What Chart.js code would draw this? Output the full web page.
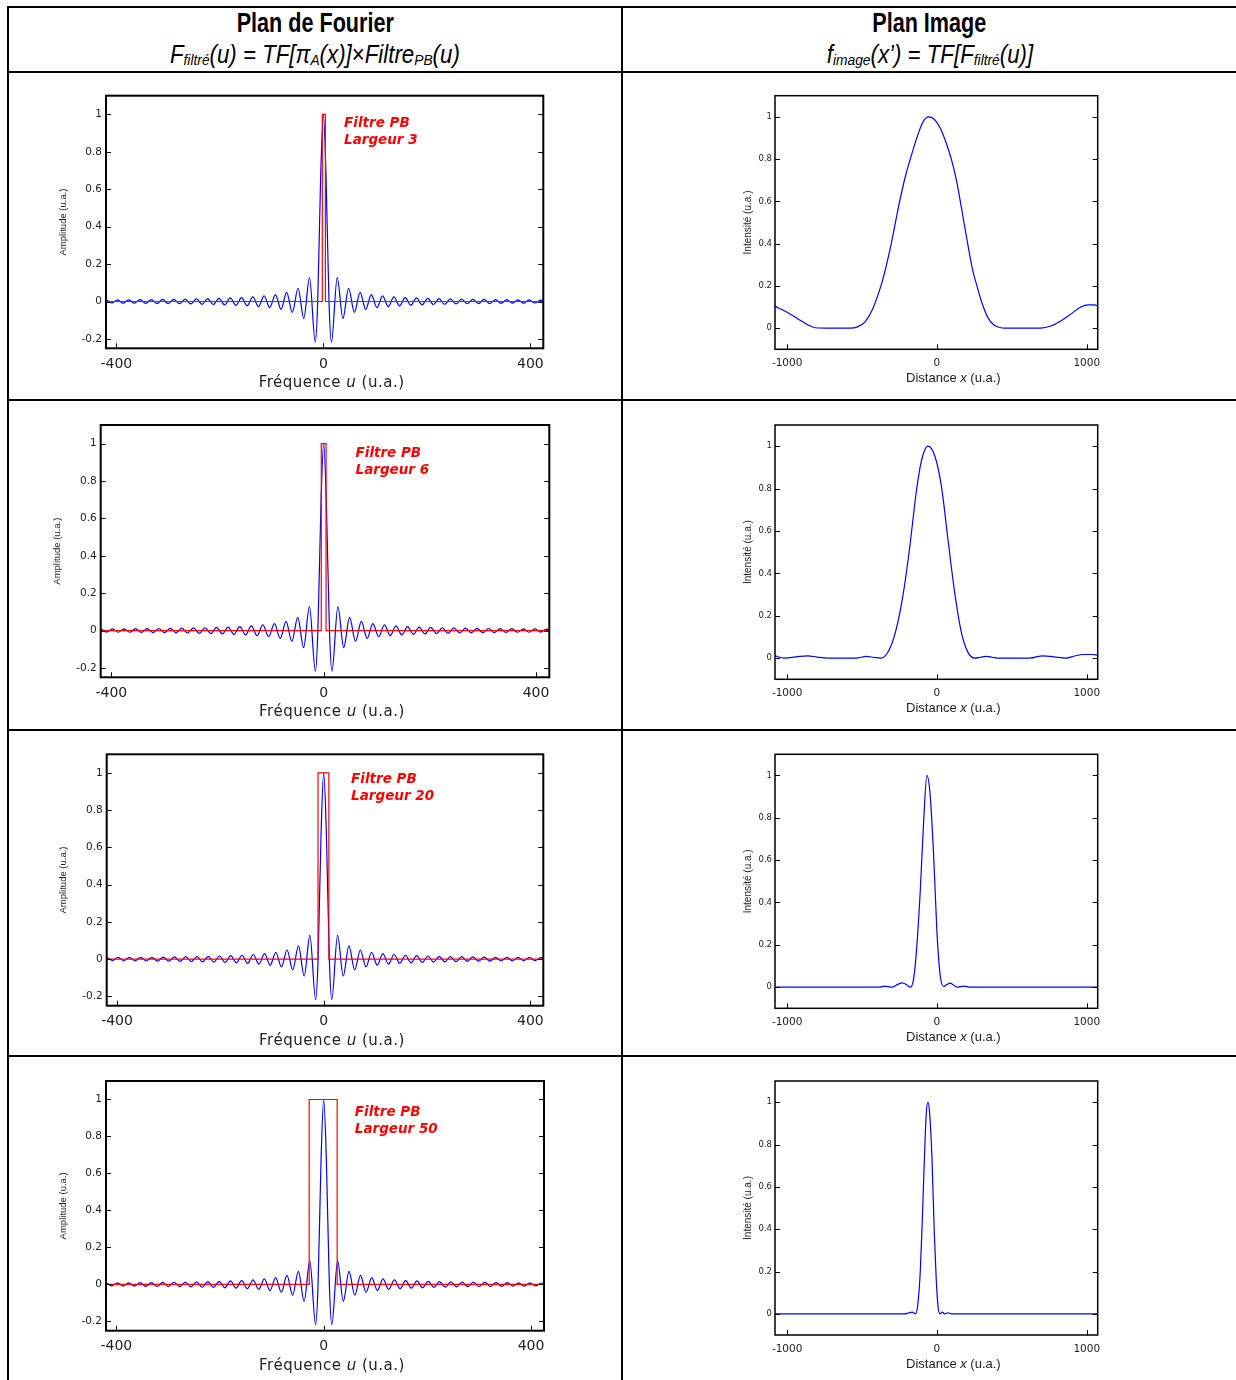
<!DOCTYPE html>
<html lang="fr">
<head>
<meta charset="utf-8">
<title>Filtrage passe-bas</title>
<script src="https://cdn.jsdelivr.net/npm/chart.js@4.4.1/dist/chart.umd.min.js"></script>
<style>
html,body{margin:0;padding:0;background:#fff}
body{width:1236px;height:1380px;position:relative;overflow:hidden;font-family:"Liberation Sans",Arial,sans-serif}
.ln{position:absolute;background:#000}
.hd{position:absolute;text-align:center;white-space:nowrap;color:#000}
.hd span{display:inline-block;transform:scaleX(.8);transform-origin:center}
.t1{font-weight:bold;font-size:27px;line-height:27px}
.t2{font-size:25px;line-height:25px}
.hd.t2 span{transform:scaleX(.89)}
.t2 sub{font-size:.62em;vertical-align:-.14em}
canvas{position:absolute}
</style>
</head>
<body>

<div class="ln" style="left:7px;top:6px;width:1229px;height:2px"></div>
<div class="ln" style="left:7px;top:71px;width:1229px;height:2px"></div>
<div class="ln" style="left:7px;top:399px;width:1229px;height:2px"></div>
<div class="ln" style="left:7px;top:729px;width:1229px;height:2px"></div>
<div class="ln" style="left:7px;top:1055px;width:1229px;height:2px"></div>
<div class="ln" style="left:7px;top:6px;width:2px;height:1374px"></div>
<div class="ln" style="left:621px;top:6px;width:2px;height:1374px"></div>

<div class="hd t1" style="left:9px;width:612px;top:10px"><span>Plan de Fourier</span></div>
<div class="hd t2" style="left:9px;width:612px;top:42px"><span><i>F<sub>filtré</sub>(u) = TF[π<sub>A</sub>(x)]</i>×<i>Filtre<sub>PB</sub>(u)</i></span></div>
<div class="hd t1" style="left:623px;width:613px;top:10px"><span>Plan Image</span></div>
<div class="hd t2" style="left:623px;width:613px;top:42px"><span><i>f<sub>image</sub>(x’) = TF[F<sub>filtré</sub>(u)]</i></span></div>

<canvas id="f1"></canvas><canvas id="f2"></canvas><canvas id="f3"></canvas><canvas id="f4"></canvas>
<canvas id="i1"></canvas><canvas id="i2"></canvas><canvas id="i3"></canvas><canvas id="i4"></canvas>

<script>
// TF de la fente (courbe bleue, identique sur les 4 graphes), valeurs lues aux extrema
const fourierU = [
  -430.6, -419.7, -408.8, -397.9, -387.0, -376.1, -365.2, -354.3, -343.4, -332.5,
  -321.6, -310.7, -299.8, -288.9, -278.0, -267.1, -256.2, -245.3, -234.4, -223.5,
  -212.6, -201.7, -190.8, -179.9, -169.0, -158.1, -147.2, -136.3, -125.4, -114.5,
  -103.6, -92.7, -81.8, -70.9, -60.0, -48.8, -37.8, -26.8, -15.6, -10.9, -5, 0,
  5, 10.9, 15.6, 26.8, 37.8, 48.8, 60.0, 70.9, 81.8, 92.7, 103.6, 114.5,
  125.4, 136.3, 147.2, 158.1, 169.0, 179.9, 190.8, 201.7, 212.6, 223.5,
  234.4, 245.3, 256.2, 267.1, 278.0, 288.9, 299.8, 310.7, 321.6, 332.5,
  343.4, 354.3, 365.2, 376.1, 387.0, 397.9, 408.8, 419.7, 430.6
]
const fourierAmp = [
  -0.008, 0.008, -0.008, 0.009, -0.009, 0.009, -0.009, 0.010, -0.010, 0.010,
  -0.011, 0.011, -0.011, 0.012, -0.012, 0.013, -0.013, 0.014, -0.015, 0.015,
  -0.016, 0.017, -0.018, 0.019, -0.020, 0.021, -0.023, 0.025, -0.027, 0.030,
  -0.033, 0.037, -0.042, 0.049, -0.058, 0.071, -0.091, 0.128, -0.217, 0, 0.688, 1,
  0.688, 0, -0.217, 0.128, -0.091, 0.071, -0.058, 0.049, -0.042, 0.037, -0.033, 0.030,
  -0.027, 0.025, -0.023, 0.021, -0.020, 0.019, -0.018, 0.017, -0.016, 0.015,
  -0.015, 0.014, -0.013, 0.013, -0.012, 0.012, -0.011, 0.011, -0.011, 0.010,
  -0.010, 0.010, -0.009, 0.009, -0.009, 0.009, -0.008, 0.008, -0.008
]

// filtre passe-bas (rouge)
const filtreLargeur = [3, 6, 20, 50]
const filtreBas = [-2, -4.5, -11, -28]
const filtreHaut = [4, 4.5, 10, 26]

// intensite dans le plan image
const image1X = [-1085, -1000, -930, -860, -813, -700, -580, -530, -480, -430, -374, -340, -305, -249, -210, -178, -130, -90, -56, -20, 20, 60, 96, 130, 156, 205, 240, 267, 300, 340, 380, 420, 450, 560, 690, 760, 840, 900, 960, 1010, 1050, 1080]
const image1Y = [0.105, 0.075, 0.045, 0.015, 0.002, 0, 0, 0.006, 0.03, 0.09, 0.2, 0.29, 0.4, 0.6, 0.72, 0.8, 0.91, 0.98, 1.0, 0.99, 0.95, 0.88, 0.8, 0.7, 0.6, 0.4, 0.27, 0.2, 0.12, 0.05, 0.015, 0.003, 0, 0, 0, 0.01, 0.04, 0.07, 0.1, 0.11, 0.11, 0.103]

const image2X = [-1085, -1018, -940, -862, -800, -728, -600, -539, -472, -420, -372, -316, -272, -227, -183, -138, -105, -60, -16, 29, 73, 118, 163, 207, 252, 290, 330, 370, 419, 520, 619, 708, 780, 864, 920, 976, 1030, 1080]
const image2Y = [0.011, 0, 0.006, 0.011, 0.005, 0, 0, 0, 0.008, 0.003, 0, 0.043, 0.137, 0.295, 0.516, 0.784, 0.926, 1.0, 0.957, 0.815, 0.563, 0.311, 0.121, 0.027, 0, 0.004, 0.008, 0.004, 0, 0, 0, 0.011, 0.006, 0, 0.01, 0.017, 0.017, 0.014]

const image3X = [-1085, -380, -350, -300, -265, -230, -200, -178, -156, -134, -111, -89, -67, -45, -22, 0, 22, 45, 65, 89, 110, 134, 178, 223, 1080]
const image3Y = [0, 0, 0.005, 0, 0.012, 0.02, 0.01, 0, 0.038, 0.196, 0.46, 0.78, 1.0, 0.905, 0.62, 0.26, 0.054, 0.003, 0.012, 0.019, 0.01, 0, 0.005, 0, 0]

const image4X = [-1085, -250, -216, -190, -165, -143, -127, -111, -98, -82, -71, -60, -49, -33, -18, -4.5, 9, 22, 36, 51, 73, 96, 1080]
const image4Y = [0, 0, 0, 0.004, 0.008, 0, 0.047, 0.205, 0.44, 0.77, 0.95, 1.0, 0.95, 0.73, 0.39, 0.158, 0.024, 0, 0.008, 0, 0.005, 0, 0]

const imageX = [image1X, image2X, image3X, image4X]
const imageY = [image1Y, image2Y, image3Y, image4Y]

// graduations
const uTicks = [-400, 0, 400]
const ampTicks = [-0.2, 0, 0.2, 0.4, 0.6, 0.8, 1]
const ampLabels = ['-0.2', '0', '0.2', '0.4', '0.6', '0.8', '1']
const xTicks = [-1000, 0, 1000]
const intTicks = [0, 0.2, 0.4, 0.6, 0.8, 1]
const intLabels = ['0', '0.2', '0.4', '0.6', '0.8', '1']


// mise en page (pixels de la page)
const rowTop = [74, 402, 732, 1058]
const rowH = [325, 327, 323, 322]
const fourierArea = [
  {l: 106, t: 95.7, r: 543.3, b: 348.3},
  {l: 100.7, t: 425, r: 549.3, b: 677.3},
  {l: 106.7, t: 754.3, r: 543.3, b: 1005.7},
  {l: 106, t: 1081, r: 544, b: 1330.7}
]
const imageArea = [
  {l: 775, t: 95.7, r: 1097.7, b: 349.3},
  {l: 775, t: 425, r: 1097.7, b: 679.3},
  {l: 775, t: 754.3, r: 1097.7, b: 1008.3},
  {l: 775, t: 1081, r: 1097.7, b: 1335}
]
const notePos = [{u: 40, a: 0.935}, {u: 60, a: 0.93}, {u: 53, a: 0.945}, {u: 60, a: 0.91}]

const DV = '"DejaVu Sans"'
const LS = '"Liberation Sans"'

function texteMixte(ctx, parts, cx, cy, esp) {
  ctx.letterSpacing = esp + 'px'
  let w = 0
  parts.forEach(p => { ctx.font = p[1]; w += ctx.measureText(p[0]).width })
  let xx = cx - w / 2
  ctx.textAlign = 'left'
  ctx.textBaseline = 'middle'
  parts.forEach(p => {
    ctx.font = p[1]
    ctx.fillText(p[0], xx, cy)
    xx += ctx.measureText(p[0]).width
  })
  ctx.letterSpacing = '0px'
}

function cadre(o) {
  return {
    id: 'cadre',
    afterDraw(chart) {
      const ctx = chart.ctx
      const a = chart.chartArea
      const x = chart.scales.x
      const y = chart.scales.y
      ctx.save()
      ctx.strokeStyle = '#000'
      ctx.lineWidth = o.lw
      ctx.strokeRect(a.left, a.top, a.right - a.left, a.bottom - a.top)
      ctx.lineWidth = 1
      ctx.beginPath()
      o.yTicks.forEach(v => {
        const p = Math.round(y.getPixelForValue(v)) + 0.5
        ctx.moveTo(a.left, p); ctx.lineTo(a.left + 5, p)
        ctx.moveTo(a.right - 5, p); ctx.lineTo(a.right, p)
      })
      o.xTicks.forEach(v => {
        const p = Math.round(x.getPixelForValue(v)) + 0.5
        ctx.moveTo(p, a.bottom); ctx.lineTo(p, a.bottom - 5)
      })
      ctx.stroke()

      ctx.fillStyle = '#222'
      texteMixte(ctx, o.xTitle, (a.left + a.right) / 2 + o.xTitleDx, a.bottom + o.xTitleDy, o.xTitleEsp)

      ctx.save()
      ctx.translate(a.left - o.yTitleDx, (a.top + a.bottom) / 2)
      ctx.rotate(-Math.PI / 2)
      ctx.font = o.yTitleFont
      ctx.textAlign = 'center'
      ctx.textBaseline = 'middle'
      ctx.fillText(o.yTitle, 0, 0)
      ctx.restore()

      if (o.note) {
        ctx.fillStyle = '#ff0000'
        ctx.font = 'italic bold 13.5px ' + DV
        ctx.textAlign = 'left'
        ctx.textBaseline = 'alphabetic'
        const px = x.getPixelForValue(o.note.u)
        const py = y.getPixelForValue(o.note.a)
        ctx.fillText('Filtre PB', px, py)
        ctx.fillText('Largeur ' + o.note.largeur, px, py + 17.3)
      }
      ctx.restore()
    }
  }
}

function graphe(id, box, area, datasets, ax, o) {
  const cv = document.getElementById(id)
  cv.width = box.w
  cv.height = box.h
  cv.style.left = box.x + 'px'
  cv.style.top = box.y + 'px'
  const yW = area.l - box.x
  const xH = box.y + box.h - area.b
  return new Chart(cv, {
    type: 'line',
    data: {datasets: datasets},
    options: {
      responsive: false,
      animation: false,
      layout: {padding: {left: 0, bottom: 0, top: area.t - box.y, right: box.x + box.w - area.r}},
      plugins: {legend: {display: false}, tooltip: {enabled: false}},
      elements: {point: {radius: 0}},
      scales: {
        x: {
          type: 'linear', min: ax.xMin, max: ax.xMax,
          grid: {display: false, drawTicks: false}, border: {display: false},
          afterBuildTicks: s => { s.ticks = o.xTicks.map(v => ({value: v})) },
          afterFit: s => { s.height = xH },
          ticks: {font: {family: DV, size: ax.xFont}, color: '#222', padding: ax.xPad,
                  maxRotation: 0, autoSkip: false, callback: v => String(v)}
        },
        y: {
          type: 'linear', min: ax.yMin, max: ax.yMax,
          grid: {display: false, drawTicks: false}, border: {display: false},
          afterBuildTicks: s => { s.ticks = o.yTicks.map(v => ({value: v})) },
          afterFit: s => { s.width = yW },
          ticks: {font: {family: DV, size: ax.yFont}, color: '#222', padding: ax.yPad,
                  autoSkip: false, callback: v => o.yLabels[o.yTicks.indexOf(v)]}
        }
      }
    },
    plugins: [cadre(o)]
  })
}

for (let i = 0; i < 4; i++) {
  const filtre = [
    {x: -430, y: 0}, {x: filtreBas[i], y: 0}, {x: filtreBas[i], y: 1},
    {x: filtreHaut[i], y: 1}, {x: filtreHaut[i], y: 0}, {x: 430, y: 0}
  ]
  graphe('f' + (i + 1),
    {x: 10, y: rowTop[i], w: 610, h: rowH[i]},
    fourierArea[i],
    [
      {data: filtre, borderColor: '#ff0000', borderWidth: 1.2, tension: 0},
      {data: fourierU.map((u, k) => ({x: u, y: fourierAmp[k]})), borderColor: '#0000ff',
       borderWidth: 1.2, cubicInterpolationMode: 'monotone'}
    ],
    {xMin: -420, xMax: 425, yMin: -0.25, yMax: 1.1, xFont: 14, yFont: 10.5, xPad: 7.5, yPad: 4},
    {
      lw: 2, xTicks: uTicks, yTicks: ampTicks, yLabels: ampLabels,
      xTitle: [['Fréquence ', '15px ' + DV], ['u', 'oblique 15px ' + DV], [' (u.a.)', '15px ' + DV]],
      xTitleDx: 7, xTitleDy: 35, xTitleEsp: 0.5,
      yTitle: 'Amplitude (u.a.)', yTitleFont: '9.5px ' + LS, yTitleDx: 43,
      note: {u: notePos[i].u, a: notePos[i].a, largeur: filtreLargeur[i]}
    })

  graphe('i' + (i + 1),
    {x: 624, y: rowTop[i], w: 610, h: rowH[i]},
    imageArea[i],
    [
      {data: imageX[i].map((v, k) => ({x: v, y: imageY[i][k]})), borderColor: '#0000ff',
       borderWidth: 1.2, cubicInterpolationMode: 'monotone'}
    ],
    {xMin: -1081, xMax: 1073, yMin: -0.1, yMax: 1.1, xFont: 10.5, yFont: 8.5, xPad: 7.5, yPad: 3},
    {
      lw: 1.5, xTicks: xTicks, yTicks: intTicks, yLabels: intLabels,
      xTitle: [['Distance ', '13px ' + LS], ['x', 'italic 13px ' + LS], [' (u.a.)', '13px ' + LS]],
      xTitleDx: 17, xTitleDy: 29, xTitleEsp: 0,
      yTitle: 'Intensité (u.a.)', yTitleFont: '10px ' + LS, yTitleDx: 27
    })
}
</script>
</body>
</html>
